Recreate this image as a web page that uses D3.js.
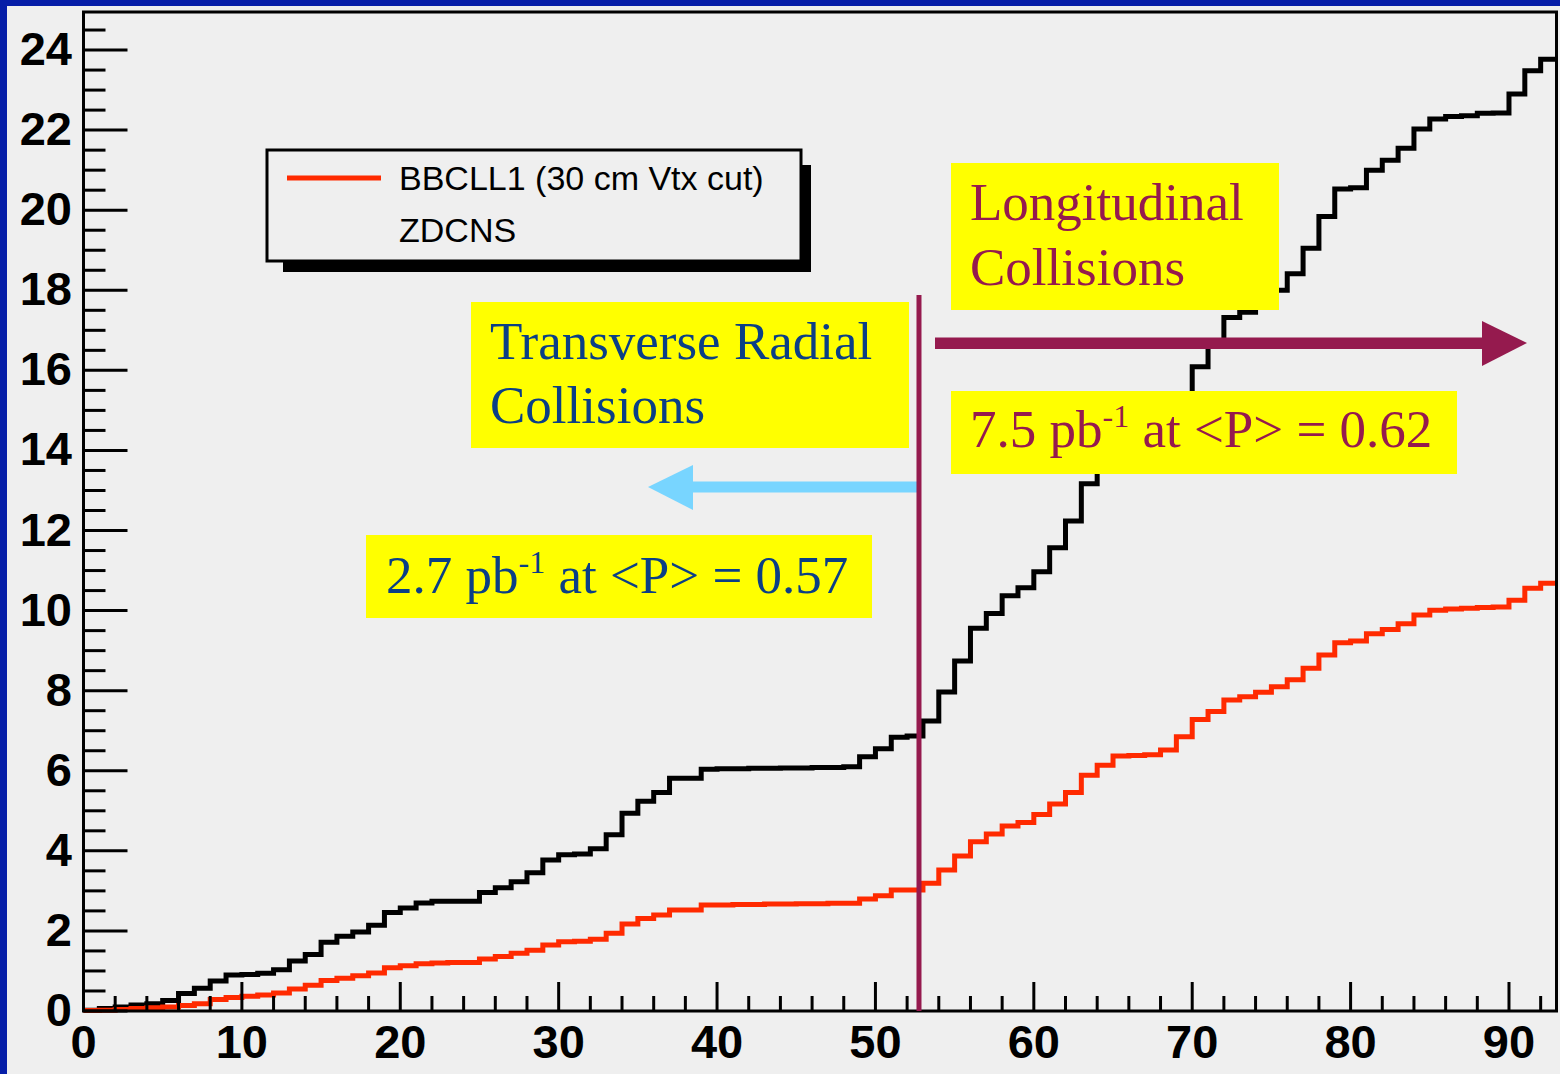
<!DOCTYPE html>
<html>
<head>
<meta charset="utf-8">
<script src="https://cdn.jsdelivr.net/npm/d3@7"></script>
<style>
  html, body { margin: 0; padding: 0; background: #061ea8; }
  svg { display: block; }
</style>
</head>
<body>
<svg id="chart" width="1560" height="1074"></svg>
<script>
// Integrated luminance per run bin (unit-wide bins starting at 0)
const zdcns = [
  0.02, 0.06, 0.10, 0.15, 0.18, 0.26, 0.44, 0.57, 0.75, 0.90,
  0.91, 0.94, 1.03, 1.25, 1.41, 1.72, 1.87, 1.97, 2.14, 2.46,
  2.57, 2.70, 2.74, 2.74, 2.74, 2.96, 3.08, 3.23, 3.45, 3.77,
  3.90, 3.92, 4.05, 4.40, 4.94, 5.24, 5.46, 5.81, 5.81, 6.04,
  6.05, 6.05, 6.06, 6.06, 6.07, 6.07, 6.08, 6.08, 6.10, 6.35,
  6.55, 6.84, 6.87, 7.24, 7.97, 8.74, 9.56, 9.93, 10.37, 10.57,
  10.97, 11.57, 12.24, 13.17, 13.70, 14.10, 14.50, 14.80, 15.10, 15.40,
  16.09, 16.68, 17.32, 17.45, 17.75, 18.00, 18.41, 19.05, 19.84, 20.53,
  20.56, 21.00, 21.25, 21.55, 22.03, 22.28, 22.34, 22.36, 22.42, 22.43,
  22.90, 23.48, 23.77
];
const bbcll1 = [
  0.01, 0.02, 0.04, 0.06, 0.08, 0.10, 0.14, 0.18, 0.29, 0.34,
  0.37, 0.40, 0.45, 0.55, 0.64, 0.76, 0.82, 0.88, 0.95, 1.08,
  1.13, 1.18, 1.20, 1.21, 1.21, 1.30, 1.36, 1.44, 1.52, 1.65,
  1.73, 1.74, 1.79, 1.94, 2.17, 2.31, 2.40, 2.52, 2.52, 2.65,
  2.65, 2.66, 2.66, 2.67, 2.67, 2.68, 2.68, 2.69, 2.69, 2.80,
  2.88, 3.02, 3.02, 3.19, 3.52, 3.87, 4.23, 4.42, 4.62, 4.71,
  4.91, 5.17, 5.46, 5.89, 6.14, 6.37, 6.38, 6.40, 6.52, 6.85,
  7.28, 7.48, 7.77, 7.85, 7.96, 8.10, 8.27, 8.56, 8.89, 9.20,
  9.24, 9.42, 9.53, 9.67, 9.89, 10.01, 10.04, 10.06, 10.08, 10.09,
  10.26, 10.56, 10.68
];
const xTickLabels = [0, 10, 20, 30, 40, 50, 60, 70, 80, 90];
const yTickLabels = [0, 2, 4, 6, 8, 10, 12, 14, 16, 18, 20, 22, 24];
const legendLabels = ["BBCLL1 (30 cm Vtx cut)", "ZDCNS"];
const dividerRun = 52.75;   // boundary between transverse and longitudinal running

const svg = d3.select("#chart");
const W = 1560, H = 1074;

// light grey canvas inside the blue slide border
svg.append("rect").attr("x", 7).attr("y", 6).attr("width", W - 7).attr("height", H - 6)
  .attr("fill", "#efefef");

const x = d3.scaleLinear().domain([0, 93]).range([83.5, 1556.5]);
const y = d3.scaleLinear().domain([0, 24.95]).range([1011, 12]);

// step histograms
const stepLine = d3.line()
  .x(d => x(d[0])).y(d => y(d[1]))
  .curve(d3.curveStepAfter);
function histPoints(vals) {
  const pts = vals.map((v, i) => [i, v]);
  pts.push([vals.length, vals[vals.length - 1]]);
  return pts;
}
svg.append("path").attr("d", stepLine(histPoints(zdcns)))
  .attr("fill", "none").attr("stroke", "#000").attr("stroke-width", 5)
  .attr("stroke-linejoin", "miter");
svg.append("path").attr("d", stepLine(histPoints(bbcll1)))
  .attr("fill", "none").attr("stroke", "#ff2a00").attr("stroke-width", 5)
  .attr("stroke-linejoin", "miter");

// axes with inward ticks
const axisG = svg.append("g");
const yMinor = d3.range(0, 24.51, 0.5);
axisG.selectAll(".ytick").data(yMinor).join("line")
  .attr("x1", x(0)).attr("x2", d => x(0) + (d % 2 === 0 ? 44 : 22))
  .attr("y1", d => y(d)).attr("y2", d => y(d))
  .attr("stroke", "#000").attr("stroke-width", 3);
const xMinor = d3.range(0, 93, 2);
const xAll = Array.from(new Set(xMinor.concat(xTickLabels))).sort((a, b) => a - b);
axisG.selectAll(".xtick").data(xAll).join("line")
  .attr("x1", d => x(d)).attr("x2", d => x(d))
  .attr("y1", y(0)).attr("y2", d => y(0) - (d % 10 === 0 ? 29 : 15))
  .attr("stroke", "#000").attr("stroke-width", 3);

// frame
svg.append("rect").attr("x", x(0)).attr("y", y(24.95))
  .attr("width", x(93) - x(0)).attr("height", y(0) - y(24.95))
  .attr("fill", "none").attr("stroke", "#000").attr("stroke-width", 3);

// tick labels
const labelFont = "'Liberation Sans', Arial, Helvetica, sans-serif";
svg.selectAll(".ylab").data(yTickLabels).join("text")
  .attr("x", 72).attr("y", d => y(d) + 15)
  .attr("text-anchor", "end").attr("font-family", labelFont)
  .attr("font-weight", "bold").attr("font-size", 47).attr("fill", "#000")
  .text(d => d);
svg.selectAll(".xlab").data(xTickLabels).join("text")
  .attr("x", d => x(d)).attr("y", 1058)
  .attr("text-anchor", "middle").attr("font-family", labelFont)
  .attr("font-weight", "bold").attr("font-size", 47).attr("fill", "#000")
  .text(d => d);

// legend with drop shadow
const lg = svg.append("g");
lg.append("rect").attr("x", 283).attr("y", 165).attr("width", 528).attr("height", 107).attr("fill", "#000");
lg.append("rect").attr("x", 267).attr("y", 150).attr("width", 534).attr("height", 111)
  .attr("fill", "#efefef").attr("stroke", "#000").attr("stroke-width", 3);
lg.append("line").attr("x1", 287).attr("x2", 381).attr("y1", 178).attr("y2", 178)
  .attr("stroke", "#ff2a00").attr("stroke-width", 5);
lg.selectAll(".lt").data(legendLabels).join("text")
  .attr("x", 399).attr("y", (d, i) => 190 + i * 52)
  .attr("font-family", labelFont).attr("font-size", 34).attr("fill", "#000")
  .text(d => d);

// annotation boxes
const serif = "'Liberation Serif', 'Times New Roman', Times, serif";
const maroon = "#951a4e", navy = "#0b3f86";
function box(bx, by, bw, bh) {
  svg.append("rect").attr("x", bx).attr("y", by).attr("width", bw).attr("height", bh).attr("fill", "#ffff00");
}
function lines(tx, baselines, texts, color) {
  texts.forEach((t, i) => {
    svg.append("text").attr("x", tx).attr("y", baselines[i])
      .attr("font-family", serif).attr("font-size", 53).attr("fill", color).text(t);
  });
}
function lumiText(tx, ty, lumi, pol, color) {
  const t = svg.append("text").attr("x", tx).attr("y", ty)
    .attr("font-family", serif).attr("font-size", 53).attr("fill", color);
  t.append("tspan").text(lumi + " pb");
  t.append("tspan").attr("dy", -20).attr("font-size", 32).text("-1");
  t.append("tspan").attr("dy", 20).text(" at <P> = " + pol);
}

box(951, 163, 328, 147);
lines(970, [220, 285], ["Longitudinal", "Collisions"], maroon);
box(951, 391, 506, 83);
lumiText(970, 447, "7.5", "0.62", maroon);
box(471, 302, 438, 146);
lines(490, [359, 423], ["Transverse Radial", "Collisions"], navy);
box(366, 535, 506, 83);
lumiText(386, 593, "2.7", "0.57", navy);

// divider and direction arrows
const xd = x(dividerRun);
svg.append("rect").attr("x", 693).attr("y", 481.5).attr("width", xd - 693).attr("height", 11).attr("fill", "#78d5ff");
svg.append("polygon").attr("points", "693,465 648,487 693,510").attr("fill", "#78d5ff");
svg.append("line").attr("x1", xd).attr("x2", xd).attr("y1", 295).attr("y2", y(0))
  .attr("stroke", maroon).attr("stroke-width", 5);
svg.append("rect").attr("x", 935).attr("y", 337.5).attr("width", 1484 - 935).attr("height", 11.5).attr("fill", maroon);
svg.append("polygon").attr("points", "1482,321 1527,343 1482,366").attr("fill", maroon);
</script>
</body>
</html>
